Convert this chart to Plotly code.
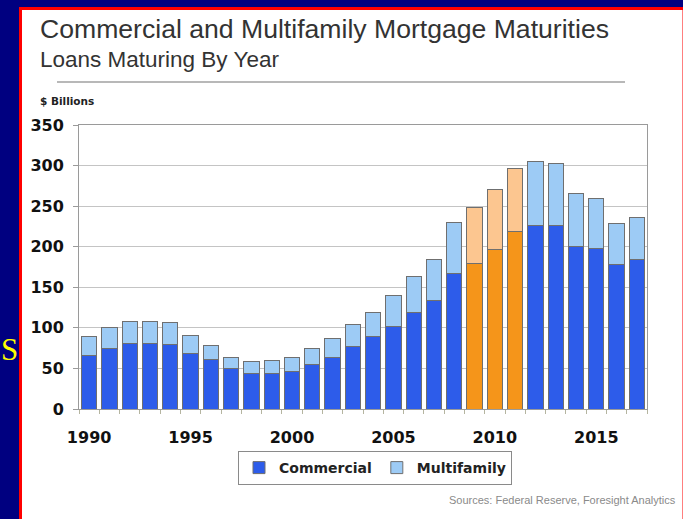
import plotly.graph_objects as go

# Loans maturing by year, $ billions
years = [1990, 1991, 1992, 1993, 1994, 1995, 1996, 1997, 1998, 1999,
         2000, 2001, 2002, 2003, 2004, 2005, 2006, 2007, 2008, 2009,
         2010, 2011, 2012, 2013, 2014, 2015, 2016, 2017]
commercial = [66, 75, 81, 81, 80, 69, 61, 50, 44, 44,
              46, 55, 63, 77, 89, 102, 119, 134, 167, 179,
              197, 219, 226, 226, 200, 198, 178, 184]
multifamily = [23, 25, 27, 27, 26, 21, 17, 14, 14, 16,
               18, 19, 24, 27, 30, 38, 44, 50, 63, 69,
               73, 77, 79, 77, 66, 61, 51, 52]
highlight_years = [2009, 2010, 2011]
label_years = [1990, 1995, 2000, 2005, 2010, 2015]
y_ticks = [0, 50, 100, 150, 200, 250, 300, 350]

W, H = 683, 519
L, R, T, B = 79, 647, 125, 409  # plot area in pixels


def px_x(x):
    return (x - L) / (R - L)


def px_y(y):
    return (B - y) / (B - T)


BLUE, LIGHT_BLUE = "#2d5cea", "#9dcbf5"
ORANGE, LIGHT_ORANGE = "#f5951a", "#fcc690"

com_colors = [ORANGE if y in highlight_years else BLUE for y in years]
mf_colors = [LIGHT_ORANGE if y in highlight_years else LIGHT_BLUE for y in years]

fig = go.Figure()
fig.add_trace(go.Bar(
    x=years, y=commercial, name="Commercial",
    marker=dict(color=com_colors, line=dict(color="#6f6f6f", width=1)),
))
fig.add_trace(go.Bar(
    x=years, y=multifamily, name="Multifamily",
    marker=dict(color=mf_colors, line=dict(color="#6f6f6f", width=1)),
))

tick_font = dict(family="DejaVu Sans", size=16, color="#111111", weight="bold")

fig.update_layout(
    width=W, height=H,
    margin=dict(l=L, r=W - R, t=T, b=H - B, pad=0),
    paper_bgcolor="#000080",
    plot_bgcolor="#ffffff",
    barmode="stack",
    bargap=0.25,
    showlegend=True,
    legend=dict(
        orientation="h", traceorder="normal",
        x=px_x(375), y=px_y(468),
        xanchor="center", yanchor="middle",
        bgcolor="#ffffff", bordercolor="#8a8a8a", borderwidth=1,
        font=dict(family="DejaVu Sans", size=14, color="#222222", weight="bold"),
        itemwidth=30, tracegroupgap=0,
    ),
    xaxis=dict(
        range=[1989.5, 2017.5],
        tickmode="array", tickvals=label_years,
        ticks="", tickfont=tick_font, ticklabelstandoff=14,
        showgrid=False, zeroline=False,
        showline=True, linecolor="#9a9a9a", linewidth=1, mirror=True,
        minor=dict(tickmode="linear", tick0=1989.5, dtick=1,
                   ticks="outside", ticklen=4, tickcolor="#b5b5a0",
                   showgrid=False),
    ),
    yaxis=dict(
        range=[0, 350],
        tickmode="array", tickvals=y_ticks,
        ticks="outside", ticklen=5, tickcolor="#9a9a9a",
        tickfont=tick_font, ticklabelstandoff=6,
        showgrid=True, gridcolor="#c4c4c4", gridwidth=1,
        zeroline=False,
        showline=True, linecolor="#9a9a9a", linewidth=1, mirror=True,
    ),
    shapes=[
        # white slide panel with red frame
        dict(type="rect", xref="paper", yref="paper", layer="below",
             x0=px_x(20.5), x1=px_x(684), y0=px_y(8.5), y1=px_y(530),
             fillcolor="#ffffff", line=dict(color="#ff0000", width=3)),
        # rule under the headings
        dict(type="line", xref="paper", yref="paper",
             x0=px_x(57), x1=px_x(625), y0=px_y(82), y1=px_y(82),
             line=dict(color="#b8b8b8", width=2)),
    ],
    annotations=[
        dict(text="Commercial and Multifamily Mortgage Maturities",
             xref="paper", yref="paper", x=px_x(38), y=px_y(29),
             xanchor="left", yanchor="middle", showarrow=False,
             font=dict(family="Liberation Sans", size=26.6, color="#333333")),
        dict(text="Loans Maturing By Year",
             xref="paper", yref="paper", x=px_x(38), y=px_y(59),
             xanchor="left", yanchor="middle", showarrow=False,
             font=dict(family="Liberation Sans", size=22.5, color="#333333")),
        dict(text="$ Billions",
             xref="paper", yref="paper", x=px_x(38), y=px_y(101),
             xanchor="left", yanchor="middle", showarrow=False,
             font=dict(family="DejaVu Sans", size=10.5, color="#222222", weight="bold")),
        dict(text="Sources: Federal Reserve, Foresight Analytics",
             xref="paper", yref="paper", x=px_x(678), y=px_y(500),
             xanchor="right", yanchor="middle", showarrow=False,
             font=dict(family="Liberation Sans", size=11, color="#8a8a8a")),
        dict(text="S",
             xref="paper", yref="paper", x=px_x(0), y=px_y(349),
             xanchor="left", yanchor="middle", showarrow=False,
             borderpad=0,
             font=dict(family="Liberation Serif", size=31, color="#ffff00")),
    ],
)

fig.write_html("out.html")
